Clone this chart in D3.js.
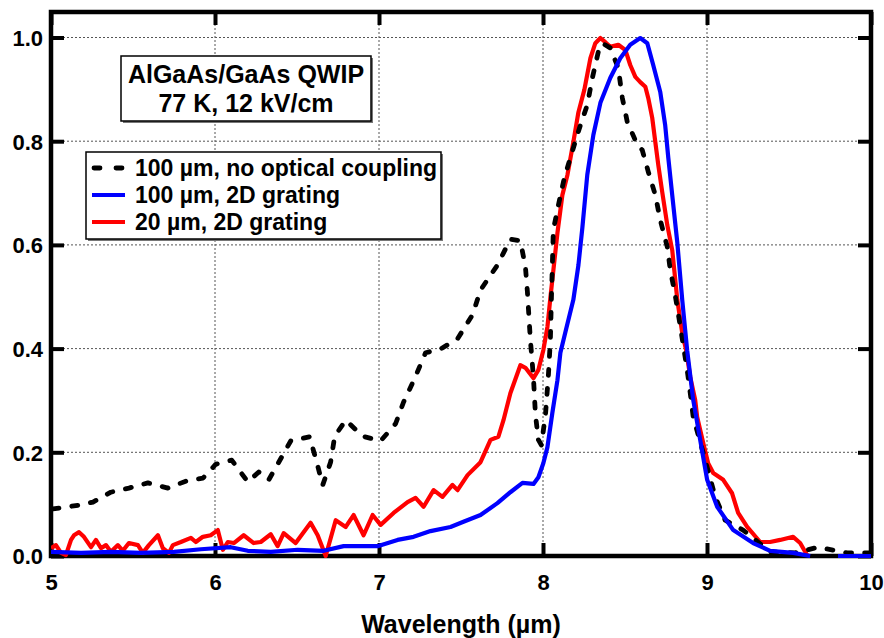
<!DOCTYPE html>
<html>
<head>
<meta charset="utf-8">
<script src="https://cdn.jsdelivr.net/npm/d3@7"></script>
<style>
  html, body { margin: 0; padding: 0; background: #fff; }
  svg { display: block; }
  text { font-family: Arial, "Liberation Sans", Helvetica, sans-serif; font-weight: bold; fill: #000; }
</style>
</head>
<body>
<script>
// ---------- data ----------
const xTicks = [5, 6, 7, 8, 9, 10];
const yTicks = [0.0, 0.2, 0.4, 0.6, 0.8, 1.0];
const xLabel = "Wavelength (\u00b5m)";
const titleLines = ["AlGaAs/GaAs QWIP", "77 K, 12 kV/cm"];
const seriesNames = ["100 \u00b5m, no optical coupling", "100 \u00b5m, 2D grating", "20 \u00b5m, 2D grating"];
const seriesColors = ["#000000", "#0000ff", "#ff0000"];

// 100 um, no optical coupling (black dashed)
const noCouplingX = [5.012,5.061,5.171,5.256,5.365,5.475,5.591,5.713,5.828,5.926,6.005,6.102,6.200,6.267,6.328,6.382,6.462,6.577,6.620,6.657,6.705,6.730,6.797,6.900,7.010,7.101,7.150,7.211,7.284,7.375,7.479,7.570,7.619,7.722,7.801,7.862,7.893,7.905,7.923,7.942,7.954,7.972,7.990,8.015,8.033,8.045,8.051,8.057,8.063,8.094,8.130,8.185,8.228,8.270,8.301,8.337,8.362,8.410,8.459,8.484,8.514,8.575,8.605,8.642,8.685,8.715,8.758,8.776,8.806,8.831,8.855,8.879,8.898,8.916,8.989,9.050,9.111,9.220,9.385,9.537,9.677,9.854,9.994];
const noCouplingY = [0.091,0.093,0.098,0.104,0.123,0.131,0.141,0.131,0.145,0.150,0.177,0.185,0.143,0.162,0.147,0.177,0.222,0.230,0.181,0.137,0.181,0.231,0.262,0.231,0.222,0.255,0.297,0.338,0.392,0.399,0.419,0.465,0.513,0.561,0.611,0.608,0.557,0.509,0.417,0.343,0.272,0.224,0.214,0.272,0.349,0.417,0.494,0.561,0.629,0.677,0.729,0.787,0.831,0.870,0.922,0.972,0.989,0.980,0.941,0.883,0.837,0.793,0.783,0.741,0.696,0.648,0.596,0.552,0.503,0.455,0.407,0.359,0.314,0.268,0.185,0.114,0.069,0.050,0.008,0.006,0.017,0.006,0.006];

// 100 um, 2D grating (blue); null = gap
const grating100X = [5.000,5.183,5.365,5.548,5.749,5.914,6.096,6.200,6.340,6.504,6.663,6.784,6.991,7.113,7.211,7.314,7.436,7.515,7.619,7.722,7.801,7.875,7.942,7.972,8.002,8.027,8.057,8.088,8.106,8.143,8.185,8.216,8.240,8.270,8.307,8.350,8.410,8.471,8.532,8.593,8.636,8.672,8.715,8.745,8.764,8.788,8.819,8.849,8.879,8.916,9.001,9.062,9.160,9.281,9.385,9.525,9.629,9.700,9.799,10.000];
const grating100Y = [0.008,0.006,0.008,0.006,0.008,0.013,0.017,0.010,0.008,0.012,0.010,0.019,0.019,0.031,0.037,0.048,0.056,0.066,0.079,0.102,0.123,0.141,0.139,0.152,0.179,0.210,0.276,0.339,0.392,0.440,0.494,0.561,0.633,0.735,0.812,0.874,0.922,0.960,0.986,0.999,0.989,0.947,0.895,0.831,0.768,0.696,0.604,0.494,0.397,0.301,0.147,0.095,0.050,0.025,0.010,0.006,0.000,null,0.000,0.000];

// 20 um, 2D grating (red)
const grating20X = [5.000,5.030,5.061,5.091,5.122,5.140,5.171,5.201,5.244,5.274,5.305,5.335,5.365,5.408,5.438,5.475,5.530,5.560,5.597,5.652,5.682,5.719,5.743,5.792,5.853,5.883,5.926,5.974,6.017,6.048,6.078,6.115,6.175,6.236,6.279,6.340,6.382,6.419,6.492,6.583,6.626,6.675,6.736,6.797,6.845,6.906,6.961,7.010,7.089,7.174,7.223,7.272,7.333,7.387,7.448,7.479,7.540,7.619,7.680,7.728,7.759,7.801,7.862,7.893,7.942,7.972,8.002,8.027,8.045,8.088,8.118,8.149,8.185,8.216,8.252,8.289,8.319,8.350,8.380,8.410,8.459,8.502,8.532,8.563,8.593,8.624,8.642,8.666,8.685,8.703,8.727,8.758,8.788,8.819,8.849,8.873,8.898,8.928,8.940,8.977,9.007,9.038,9.099,9.153,9.190,9.245,9.324,9.385,9.446,9.525,9.568,9.610];
const grating20Y = [0.015,0.021,0.006,0.002,0.031,0.040,0.046,0.037,0.017,0.031,0.015,0.021,0.008,0.021,0.010,0.025,0.021,0.006,0.021,0.040,0.015,0.006,0.021,0.027,0.035,0.027,0.037,0.040,0.050,0.012,0.027,0.025,0.040,0.025,0.027,0.042,0.019,0.044,0.025,0.064,0.040,0.000,0.069,0.056,0.079,0.040,0.079,0.060,0.083,0.104,0.112,0.095,0.127,0.114,0.137,0.127,0.156,0.181,0.224,0.230,0.262,0.314,0.368,0.363,0.343,0.359,0.397,0.442,0.498,0.623,0.696,0.735,0.798,0.856,0.899,0.960,0.989,0.999,0.991,0.982,0.986,0.976,0.947,0.924,0.914,0.905,0.883,0.845,0.798,0.754,0.702,0.638,0.590,0.494,0.430,0.397,0.345,0.301,0.268,0.218,0.179,0.160,0.147,0.121,0.083,0.056,0.027,0.027,0.031,0.037,0.025,0.002];

// ---------- chart ----------
const W = 884, H = 638;
const L = 51, R = 871, T = 12, B = 556;

const svg = d3.select("body").append("svg").attr("width", W).attr("height", H);

const x = d3.scaleLinear().domain([5, 10]).range([L, R]);
const y = d3.scaleLinear().domain([0, 1]).range([B, 37.5]);

// clip
svg.append("defs").append("clipPath").attr("id", "plotclip")
  .append("rect").attr("x", L).attr("y", T).attr("width", R - L).attr("height", B - T + 2);

// grid
const grid = svg.append("g").attr("stroke", "#555").attr("stroke-width", 1).attr("stroke-dasharray", "2,2");
xTicks.filter(v => v > 5 && v < 10).forEach(v => {
  grid.append("line").attr("x1", x(v)).attr("x2", x(v)).attr("y1", T).attr("y2", B);
});
yTicks.filter(v => v > 0).forEach(v => {
  grid.append("line").attr("x1", L).attr("x2", R).attr("y1", y(v)).attr("y2", y(v));
});

// axes with inward ticks
const tickLen = 13;
const axB = svg.append("g").attr("transform", `translate(0,${B})`)
  .call(d3.axisBottom(x).tickValues(xTicks).tickSizeInner(-tickLen).tickSizeOuter(0).tickPadding(18).tickFormat(d3.format("d")));
const axT = svg.append("g").attr("transform", `translate(0,${T})`)
  .call(d3.axisTop(x).tickValues(xTicks).tickSizeInner(-tickLen).tickSizeOuter(0).tickFormat(""));
const axL = svg.append("g").attr("transform", `translate(${L},0)`)
  .call(d3.axisLeft(y).tickValues(yTicks).tickSizeInner(-tickLen).tickSizeOuter(0).tickPadding(8).tickFormat(d3.format(".1f")));
const axR = svg.append("g").attr("transform", `translate(${R},0)`)
  .call(d3.axisRight(y).tickValues(yTicks).tickSizeInner(-tickLen).tickSizeOuter(0).tickFormat(""));
[axB, axT, axL, axR].forEach(a => {
  a.select(".domain").remove();
  a.selectAll(".tick line").attr("stroke", "#000").attr("stroke-width", 4);
  a.selectAll(".tick text").style("font-size", "22px").style("font-family", "Arial, 'Liberation Sans', sans-serif").style("font-weight", "bold").attr("fill", "#000");
});
axL.selectAll(".tick text").attr("dy", "0.36em");
axB.selectAll(".tick text").attr("dy", "0.71em");

// frame
svg.append("rect").attr("x", L).attr("y", T).attr("width", R - L).attr("height", B - T)
  .attr("fill", "none").attr("stroke", "#000").attr("stroke-width", 4.5);

// lines
function makeData(xs, ys) { return xs.map((v, i) => ({ x: v, y: ys[i] })); }
const line = d3.line().defined(d => d.y !== null).x(d => x(d.x)).y(d => y(d.y));
const plot = svg.append("g").attr("clip-path", "url(#plotclip)");

plot.append("path").datum(makeData(grating20X, grating20Y))
  .attr("d", line).attr("fill", "none").attr("stroke", seriesColors[2]).attr("stroke-width", 4.2).attr("stroke-linejoin", "round");
plot.append("path").datum(makeData(noCouplingX, noCouplingY))
  .attr("d", line).attr("fill", "none").attr("stroke", seriesColors[0]).attr("stroke-width", 4.8)
  .attr("stroke-dasharray", "6,13").attr("stroke-linecap", "round").attr("stroke-linejoin", "round");
plot.append("path").datum(makeData(grating100X, grating100Y))
  .attr("d", line).attr("fill", "none").attr("stroke", seriesColors[1]).attr("stroke-width", 4.2).attr("stroke-linejoin", "round");

// title box
const tb = { x: 121, y: 56, w: 250, h: 65 };
svg.append("rect").attr("x", tb.x + 2).attr("y", tb.y + 2).attr("width", tb.w).attr("height", tb.h).attr("fill", "#777");
svg.append("rect").attr("x", tb.x).attr("y", tb.y).attr("width", tb.w).attr("height", tb.h).attr("fill", "#fff").attr("stroke", "#000").attr("stroke-width", 1.5);
titleLines.forEach((t, i) => {
  svg.append("text").attr("x", tb.x + tb.w / 2).attr("y", 83 + i * 29).attr("text-anchor", "middle")
    .style("font-size", "25px").text(t);
});

// legend box
const lb = { x: 86, y: 152, w: 355, h: 87 };
svg.append("rect").attr("x", lb.x + 2).attr("y", lb.y + 2).attr("width", lb.w).attr("height", lb.h).attr("fill", "#777");
svg.append("rect").attr("x", lb.x).attr("y", lb.y).attr("width", lb.w).attr("height", lb.h).attr("fill", "#fff").attr("stroke", "#000").attr("stroke-width", 1.5);
const rowY = [168, 195, 222];
seriesNames.forEach((name, i) => {
  const g = svg.append("g");
  if (i === 0) {
    [[94, 100], [116, 122]].forEach(([a, b]) => {
      g.append("line").attr("x1", a).attr("x2", b).attr("y1", rowY[i]).attr("y2", rowY[i])
        .attr("stroke", seriesColors[i]).attr("stroke-width", 4.8).attr("stroke-linecap", "round");
    });
  } else {
    g.append("line").attr("x1", 92).attr("x2", 125).attr("y1", rowY[i]).attr("y2", rowY[i])
      .attr("stroke", seriesColors[i]).attr("stroke-width", 4.2);
  }
  g.append("text").attr("x", 135).attr("y", rowY[i]).attr("dy", "0.36em").style("font-size", "23px").text(name);
});

// x-axis title
svg.append("text").attr("x", 461).attr("y", 633).attr("text-anchor", "middle")
  .style("font-size", "25px").text(xLabel);
</script>
</body>
</html>
